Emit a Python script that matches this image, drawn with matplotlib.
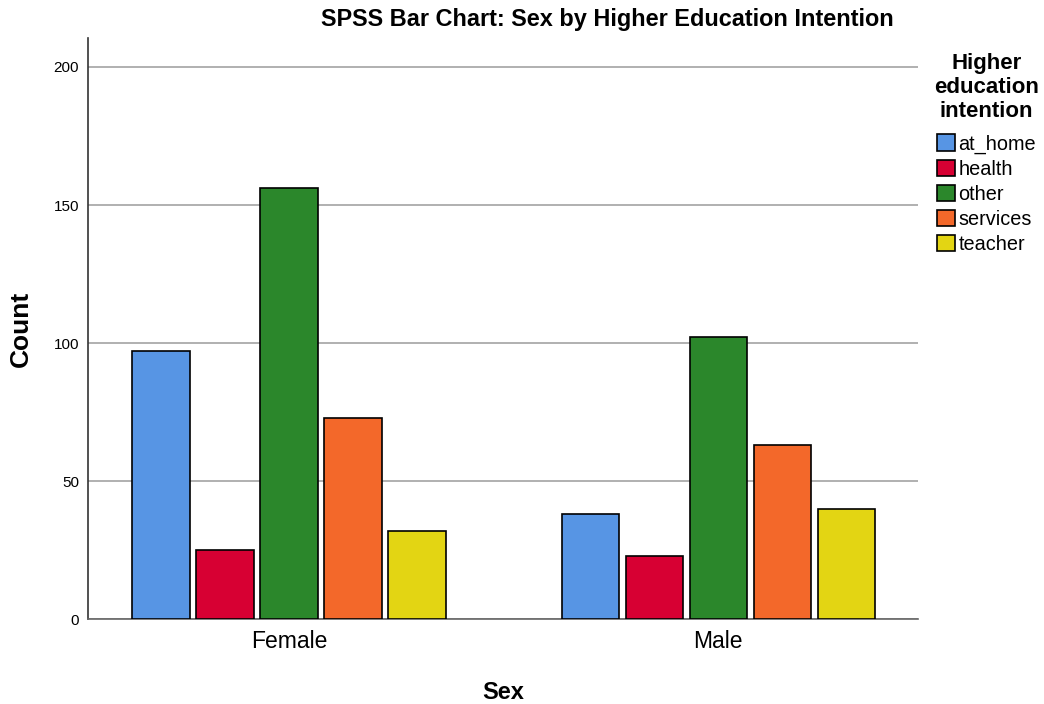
import matplotlib
matplotlib.use("Agg")
import matplotlib.pyplot as plt
import numpy as np

plt.rcParams['font.family'] = ['Liberation Sans', 'DejaVu Sans']

sexes = ['Female', 'Male']
groups = ['at_home', 'health', 'other', 'services', 'teacher']
counts = {
    'at_home': [97, 38],
    'health': [25, 23],
    'other': [156, 102],
    'services': [73, 63],
    'teacher': [32, 40],
}
colors = ['#5795e4', '#d70033', '#2b872b', '#f3682a', '#e3d513']

fig = plt.figure(figsize=(10.44, 7.04), dpi=100)
ax = fig.add_axes([0.0843, 0.1207, 0.795, 0.8253])

x = np.arange(len(sexes))
step = 0.149
width = 0.134
for i, g in enumerate(groups):
    ax.bar(x + (i - 2) * step, counts[g], width, color=colors[i],
           edgecolor='black', linewidth=1.2, label=g, zorder=3)

ax.set_xlim(-0.468, 1.465)
ax.set_ylim(0, 210.5)
ax.set_yticks([0, 50, 100, 150, 200])
ax.yaxis.grid(True, color='#aaaaaa', linewidth=1.3, zorder=0)
ax.set_axisbelow(True)
ax.set_xticks(x)
ax.set_xticklabels(sexes, fontsize=16.5)
ax.tick_params(axis='both', length=0)
ax.tick_params(axis='y', labelsize=11, pad=6.5)
ax.tick_params(axis='x', pad=8)
for s in ['top', 'right']:
    ax.spines[s].set_visible(False)
ax.spines['left'].set_color('#333333')
ax.spines['bottom'].set_color('#666666')
ax.spines['left'].set_linewidth(1.2)
ax.spines['bottom'].set_linewidth(1.2)

ax.set_xlabel('Sex', fontsize=17, fontweight='bold', labelpad=20)
ax.set_ylabel('Count', fontsize=19, fontweight='bold')
ax.yaxis.set_label_coords(-0.0663, 0.5)

fig.text(0.582, 0.972, 'SPSS Bar Chart: Sex by Higher Education Intention',
         ha='center', va='center', fontsize=16.9, fontweight='bold')

leg = fig.legend(loc='upper left', bbox_to_anchor=(0.8775, 0.95),
                 title='Higher\neducation\nintention', frameon=False,
                 fontsize=14.3, handlelength=0.9, handleheight=0.9,
                 handletextpad=0.2, labelspacing=0.3)
leg.get_title().set_fontsize(16)
leg.get_title().set_fontweight('bold')
leg.get_title().set_multialignment('center')
leg._legend_box.sep = 8.5

fig.savefig('out.png', dpi=100)
